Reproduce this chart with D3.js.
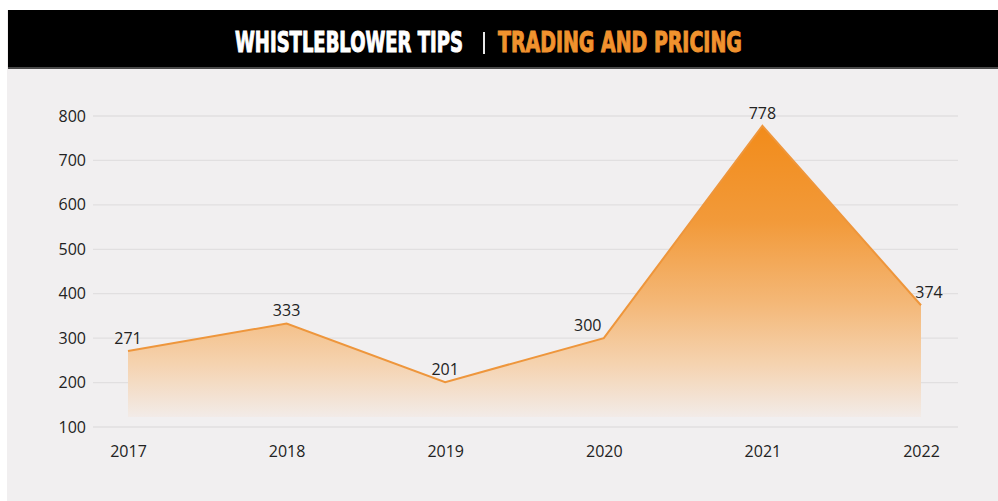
<!DOCTYPE html>
<html>
<head>
<meta charset="utf-8">
<script src="https://cdn.jsdelivr.net/npm/d3@7/dist/d3.min.js"></script>
<style>
  html, body { margin: 0; padding: 0; background: #ffffff; }
  svg { display: block; }
</style>
</head>
<body>
<svg id="chart" width="998" height="501"></svg>
<script>
// Whistleblower tips related to trading and pricing, per year
const years = ["2017", "2018", "2019", "2020", "2021", "2022"];
const tips = [271, 333, 201, 300, 778, 374];
const yTicks = [100, 200, 300, 400, 500, 600, 700, 800];
const titleLeft = "WHISTLEBLOWER TIPS";
const titleRight = "TRADING AND PRICING";

const svg = d3.select("#chart");
const W = 998, H = 501;

// page background and title band
svg.append("rect").attr("x", 7).attr("y", 10).attr("width", W - 7).attr("height", H - 10).attr("fill", "#f1eff0");
svg.append("rect").attr("x", 8).attr("y", 10).attr("width", W - 8).attr("height", 58).attr("fill", "#000");
svg.append("rect").attr("x", 8).attr("y", 67).attr("width", W - 8).attr("height", 2).attr("fill", "#4a4a4a");

// title pieces, squeezed horizontally to a set width
const titleFont = "'Liberation Sans Narrow', 'DejaVu Sans Condensed', sans-serif";
function titlePart(str, left, width, color) {
  const g = svg.append("g");
  const t = g.append("text").attr("x", 0).attr("y", 0)
    .attr("font-family", titleFont).attr("font-weight", "bold").attr("font-size", 28)
    .attr("fill", color).attr("stroke", color).attr("stroke-width", 1)
    .text(str);
  const natural = t.node().getComputedTextLength();
  g.attr("transform", `translate(${left},52) scale(${width / natural},1)`);
}
titlePart(titleLeft, 235, 228, "#ffffff");
svg.append("rect").attr("x", 483).attr("y", 32).attr("width", 2).attr("height", 22).attr("fill", "#e8e8e8");
titlePart(titleRight, 498, 244, "#f0922e");

// scales
const x = d3.scalePoint().domain(years).range([128, 921]);
const y = d3.scaleLinear().domain([100, 800]).range([427, 116]);

const labelFont = "'Open Sans', 'Noto Sans', sans-serif";
const ink = "#222222";

// horizontal gridlines
svg.append("g").selectAll("line").data(yTicks).join("line")
  .attr("x1", 93).attr("x2", 958)
  .attr("y1", d => y(d)).attr("y2", d => y(d))
  .attr("stroke", "#e1dfe0").attr("stroke-width", 1.3);

// y axis labels
const yAxis = svg.append("g").attr("transform", "translate(86,0)")
  .call(d3.axisLeft(y).tickValues(yTicks).tickSize(0).tickPadding(0));
yAxis.select(".domain").remove();
yAxis.selectAll("text").attr("font-family", labelFont).attr("font-size", 16)
  .attr("fill", ink);

// x axis labels
const xAxis = svg.append("g").attr("transform", "translate(0,446)")
  .call(d3.axisBottom(x).tickSize(0).tickPadding(0));
xAxis.select(".domain").remove();
xAxis.selectAll("text").attr("font-family", labelFont).attr("font-size", 16)
  .attr("fill", ink);

// vertical gradient fill for the area
const defs = svg.append("defs");
const grad = defs.append("linearGradient").attr("id", "areaFill")
  .attr("gradientUnits", "userSpaceOnUse")
  .attr("x1", 0).attr("x2", 0).attr("y1", y(800)).attr("y2", y(100) - 8);
[
  [0, "#f28a17"],
  [0.35, "#f29a3a"],
  [0.62, "#f4b878"],
  [0.82, "#f5d3b0"],
  [1, "#f2ecea"]
].forEach(([o, c]) => grad.append("stop").attr("offset", o).attr("stop-color", c));

const pts = years.map((yr, i) => ({ yr, v: tips[i] }));

const area = d3.area()
  .x(d => x(d.yr))
  .y0(y(100) - 10)
  .y1(d => y(d.v));
svg.append("path").datum(pts).attr("d", area).attr("fill", "url(#areaFill)");

const line = d3.line().x(d => x(d.yr)).y(d => y(d.v));
svg.append("path").datum(pts).attr("d", line)
  .attr("fill", "none").attr("stroke", "#ee963c").attr("stroke-width", 2)
  .attr("stroke-linejoin", "miter");

// value labels above each point; a few sit beside a steep segment
const nudge = { "2020": -16, "2022": 8 };
svg.append("g").selectAll("text").data(pts).join("text")
  .attr("x", d => x(d.yr) + (nudge[d.yr] || 0))
  .attr("y", d => y(d.v) - 7)
  .attr("text-anchor", "middle")
  .attr("font-family", labelFont).attr("font-size", 16)
  .attr("fill", ink)
  .text(d => d.v);
</script>
</body>
</html>
